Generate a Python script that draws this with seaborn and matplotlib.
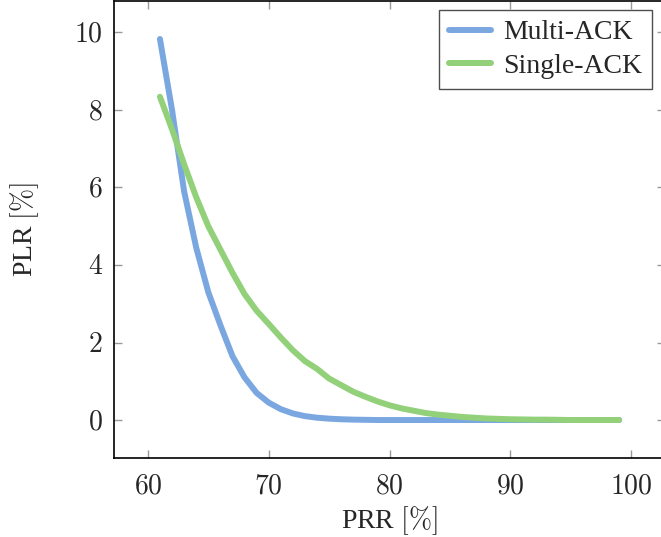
import matplotlib
matplotlib.use("Agg")
import matplotlib.pyplot as plt
import seaborn as sns
import pandas as pd

# PRR [%] sampled at every integer from 61 to 99
prr = list(range(61, 100))

multi_ack = [9.83, 8.0, 5.9, 4.45, 3.3, 2.45, 1.65, 1.1, 0.7, 0.45,
             0.28, 0.17, 0.1, 0.06, 0.035, 0.02, 0.01, 0.005, 0.0, 0.0,
             0.0, 0.0, 0.0, 0.0, 0.0, 0.0, 0.0, 0.0, 0.0, 0.0,
             0.0, 0.0, 0.0, 0.0, 0.0, 0.0, 0.0, 0.0, 0.0]

single_ack = [8.34, 7.5, 6.6, 5.75, 5.0, 4.4, 3.8, 3.25, 2.82, 2.48,
              2.13, 1.8, 1.52, 1.32, 1.07, 0.9, 0.73, 0.6, 0.48, 0.38,
              0.3, 0.24, 0.18, 0.14, 0.11, 0.08, 0.06, 0.04, 0.03, 0.02,
              0.015, 0.01, 0.01, 0.005, 0.0, 0.0, 0.0, 0.0, 0.0]

series_names = ["Multi-ACK", "Single-ACK"]
colors = ["#7BA7E1", "#92D07A"]

df = pd.DataFrame({
    "PRR": prr * 2,
    "PLR": multi_ack + single_ack,
    "scheme": [series_names[0]] * len(prr) + [series_names[1]] * len(prr),
})

sns.set_theme(style="ticks")
plt.rcParams["font.family"] = ["Liberation Serif", "DejaVu Serif"]
plt.rcParams["mathtext.fontset"] = "cm"

fig = plt.figure(figsize=(6.61, 5.37), dpi=100)
ax = fig.add_axes([0.1725, 0.1471, 0.8336, 0.851])

sns.lineplot(data=df, x="PRR", y="PLR", hue="scheme", hue_order=series_names,
             palette=colors, linewidth=4.3, ax=ax)

ax.set_xlim(57.2, 102.8)
ax.set_ylim(-0.98, 10.81)
ax.set_xticks([60, 70, 80, 90, 100])
ax.set_yticks([0, 2, 4, 6, 8, 10])
ax.set_xticklabels([f"${t}$" for t in [60, 70, 80, 90, 100]])
ax.set_yticklabels([f"${t}$" for t in [0, 2, 4, 6, 8, 10]])
ax.tick_params(direction="in", length=6, width=1, color="#9a9a9a",
               top=True, right=True, labelsize=20)
ax.tick_params(axis="x", pad=12)
ax.tick_params(axis="y", pad=8)
for s in ax.spines.values():
    s.set_color("black")
    s.set_linewidth(1.2)

ax.set_xlabel(r"PRR $[\%]$", fontsize=20, labelpad=3)
ax.set_ylabel(r"PLR $[\%]$", fontsize=20, labelpad=24)

leg = ax.legend(loc="upper right", fontsize=20, frameon=True, fancybox=False,
                edgecolor="#222222", handlelength=1.5, handletextpad=0.45,
                borderpad=0.35, labelspacing=0.3, borderaxespad=0,
                bbox_to_anchor=(0.976, 0.98))
leg.get_frame().set_linewidth(1.0)
leg.set_title(None)

fig.savefig("out.png", dpi=100)
